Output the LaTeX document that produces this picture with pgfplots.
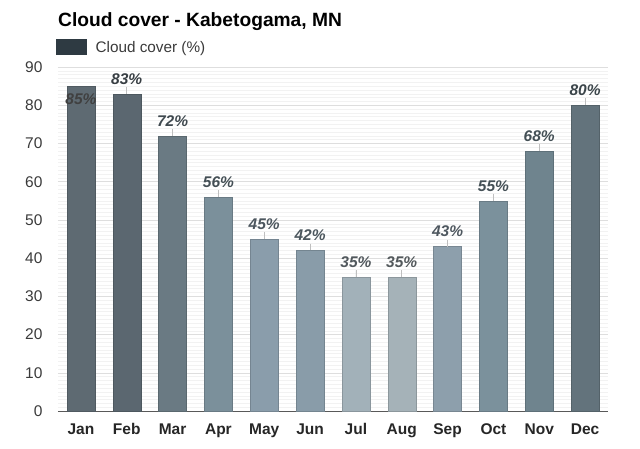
\documentclass[border=0pt]{standalone}
\usepackage{pgfplots}
\pgfplotsset{compat=1.18}
\usepackage{fontspec}
\setmainfont{Liberation Sans}

\definecolor{cJan}{HTML}{5E6A72}
\definecolor{cFeb}{HTML}{5B6770}
\definecolor{cMar}{HTML}{6A7A83}
\definecolor{cApr}{HTML}{7B909B}
\definecolor{cMay}{HTML}{8A9DAB}
\definecolor{cJun}{HTML}{899CA9}
\definecolor{cJul}{HTML}{A2B1B9}
\definecolor{cAug}{HTML}{A5B2B8}
\definecolor{cSep}{HTML}{8D9FAC}
\definecolor{cOct}{HTML}{7B919C}
\definecolor{cNov}{HTML}{6F848E}
\definecolor{cDec}{HTML}{63737C}
\definecolor{legdark}{HTML}{2E3A42}
\definecolor{ticktxt}{HTML}{3A3A3A}

\pgfplotsset{pctlabel/.style={
  nodes near coords={\pgfmathprintnumber{\pgfplotspointmeta}\%},
  every node near coord/.append style={font=\fontsize{15.5}{15.5}\selectfont\bfseries\itshape, anchor=south, yshift=6pt}}}

% one bar: x, value, colour, label colour
\newcommand{\monthbar}[4]{%
  \addplot[fill=#3, draw=#3!85!black, pctlabel,
    every node near coord/.append style={text=#4},
    error bars/.cd, y dir=plus, y fixed=1.8, error mark=none,
    error bar style={draw=black!25, line width=0.8pt}]
    coordinates {(#1,#2)};
}

\begin{document}
\begin{tikzpicture}
\begin{axis}[
  scale only axis,
  width=550pt, height=344pt,
  ybar, bar width=28pt, bar shift=0pt,
  xmin=-0.5, xmax=11.5,
  ymin=0, ymax=90,
  ytick={0,10,...,90},
  minor y tick num=9,
  xtick={0,...,11},
  xticklabels={Jan,Feb,Mar,Apr,May,Jun,Jul,Aug,Sep,Oct,Nov,Dec},
  x tick label style={font=\fontsize{15.5}{15.5}\selectfont\bfseries, text=black!85, yshift=-9pt},
  y tick label style={font=\fontsize{15.5}{15.5}\selectfont, text=ticktxt, xshift=-12pt},
  /pgf/number format/assume math mode=true,
  major tick length=0pt, minor tick length=0pt,
  ymajorgrids, yminorgrids,
  major grid style={draw=black!13},
  minor grid style={draw=black!5},
  axis lines=left,
  axis line style={-},
  y axis line style={draw=none},
  x axis line style={draw=black!65, line width=0.8pt},
  clip=false,
  legend style={at={(0,1)}, anchor=south west, draw=none, fill=none,
    font=\fontsize{15.3}{15.3}\selectfont, text=ticktxt, yshift=9pt, xshift=-5pt,
    legend cell align=left},
  legend image code/.code={\fill[legdark] (0pt,-7pt) rectangle (30pt,8pt);},
]
\addlegendimage{legdark}
\addlegendentry{\hspace*{7pt}Cloud cover (\%)}
\addplot[fill=cJan, draw=cJan!85!black, pctlabel,
  every node near coord/.append style={text=black!75, anchor=north, yshift=-10pt}]
  coordinates {(0,85)};
\monthbar{1}{83}{cFeb}{cFeb!60!black}
\monthbar{2}{72}{cMar}{cMar!60!black}
\monthbar{3}{56}{cApr}{cApr!55!black}
\monthbar{4}{45}{cMay}{cMay!55!black}
\monthbar{5}{42}{cJun}{cJun!55!black}
\monthbar{6}{35}{cJul}{cJul!50!black}
\monthbar{7}{35}{cAug}{cAug!50!black}
\monthbar{8}{43}{cSep}{cSep!55!black}
\monthbar{9}{55}{cOct}{cOct!55!black}
\monthbar{10}{68}{cNov}{cNov!60!black}
\monthbar{11}{80}{cDec}{cDec!60!black}
\end{axis}
\node[anchor=base west, inner sep=0pt, font=\fontsize{19.2}{19.2}\selectfont\bfseries] at (0pt,384pt) {Cloud cover - Kabetogama, MN};
\useasboundingbox (-58pt,-37pt) rectangle (582pt,411pt);
\end{tikzpicture}
\end{document}
